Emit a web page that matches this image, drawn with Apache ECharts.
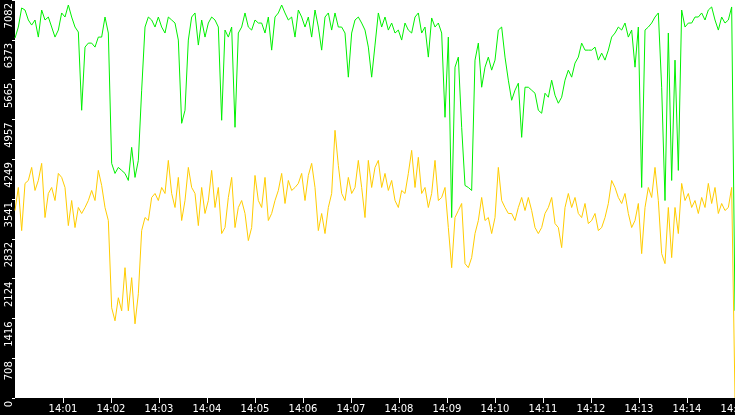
<!DOCTYPE html>
<html>
<head>
<meta charset="utf-8">
<script src="https://cdn.jsdelivr.net/npm/echarts@6/dist/echarts.min.js"></script>
<style>
html,body{margin:0;padding:0;background:#000;}
#chart{width:735px;height:415px;}
</style>
</head>
<body>
<div id="chart"></div>
<script>
// Time span: 14:00:00 to 14:15:00, values sampled evenly (seconds from 14:00)
const spanSeconds = 900;
const yMax = 7082;
const yTickStep = 708.2;
const xTickStep = 60;

const greenValues = [
  6405,6601,6940,6904,6726,6636,6726,6422,6904,6726,
  6779,6601,6422,6547,6851,6779,6993,6779,6601,6512,
  5120,6244,6315,6315,6244,6422,6422,6779,6494,4175,
  3996,4103,4050,3996,3871,4460,3925,4228,5477,6601,
  6779,6726,6601,6779,6601,6494,6779,6726,6672,6369,
  4888,5120,6369,6779,
  6851,6280,6726,6422,6672,6779,6726,6601,4942,6547,
  6422,6601,4817,6494,6601,6851,6601,6547,6726,6672,
  6672,6494,6779,6190,6779,6851,6993,6851,6726,6779,
  6422,6904,6779,6601,6779,6422,6904,6601,6190,6779,
  6851,6547,6851,6601,6601,6494,5709,6494,6726,6779,
  6672,6547,6244,5709,
  6280,6851,6601,6779,6547,6672,6494,6547,6369,6672,
  6547,6494,6779,6851,6494,6601,6066,6762,6601,6672,
  6494,4995,6422,3211,5887,6066,4817,3782,3746,3693,
  6012,6315,5530,5887,6066,5834,6012,6547,6601,6066,
  5655,5298,5477,5602,4638,5530,5530,5477,5423,5120,
  5067,5423,5352,5655,
  5388,5245,5352,5655,5834,5709,5959,6066,6315,6190,
  6190,6190,6244,6012,6137,6012,6190,6422,6494,6601,
  6547,6672,6422,6547,5887,6601,3746,6547,6601,6672,
  6779,6851,5530,3514,6494,3871,6012,4050,6904,6601,
  6672,6672,6779,6779,6851,6726,6904,6958,6726,6547,
  6779,6672,6726,6958,
  1552
];

const yellowValues = [
  3336,3746,2979,3818,3871,4103,3693,3871,4175,3211,
  3639,3746,3514,3996,3925,3746,3068,3514,3033,3390,
  3283,3390,3514,3693,3514,4050,3782,3390,3158,1606,
  1374,1784,1552,2319,1552,2141,1320,1855,2979,3211,
  3158,3568,3639,3514,3746,3639,4228,3639,3390,3925,
  3158,3514,4103,3746,
  3639,3068,3746,3283,3514,4050,3390,3746,2926,3033,
  3568,3925,3033,3390,3514,3283,2801,3033,3960,3514,
  3390,3925,3158,3283,3514,3693,3996,3461,3871,3693,
  3746,3818,3996,3514,3960,4175,3746,2979,3283,2926,
  3390,3639,4763,4139,3639,3514,3925,3639,3746,4228,
  3746,3211,4228,3746,
  4103,4228,3746,3996,3693,3871,3514,3390,3693,3639,
  3996,4406,3746,4282,3639,3746,3390,3639,4228,3514,
  3568,3746,3033,2319,3211,3336,3461,2391,2319,2498,
  2926,3158,3568,3158,3211,2926,3211,4103,3514,3390,
  3283,3283,3158,3390,3568,3336,3568,3336,3033,2926,
  3033,3283,3390,3568,
  3104,3033,2676,3390,3639,3390,3568,3283,3211,3461,
  3104,3158,3283,2979,3033,3211,3461,3871,3746,3568,
  3461,3639,3283,3033,3158,3461,2569,3390,3746,3568,
  4103,3514,2569,2391,3390,2498,3390,2926,3818,3514,
  3639,3390,3514,3283,3568,3390,3818,3461,3746,3283,
  3461,3336,3390,3746,
  0
];

function toPairs(values) {
  const step = spanSeconds / (values.length - 1);
  return values.map((v, i) => [i * step, v]);
}

const chart = echarts.init(document.getElementById('chart'), null, {renderer: 'canvas'});
chart.setOption({
  animation: false,
  backgroundColor: '#000',
  grid: {
    left: 15, right: 0, top: 0, bottom: 17,
    show: true, backgroundColor: '#fff', borderWidth: 0,
    containLabel: false, outerBoundsMode: 'none'
  },
  xAxis: {
    type: 'value',
    min: 0, max: spanSeconds, interval: xTickStep,
    axisLine: {show: false},
    splitLine: {show: false},
    axisTick: {show: true, length: 5, lineStyle: {color: '#fff', width: 1}},
    axisLabel: {
      color: '#fff', fontSize: 10, fontFamily: 'DejaVu Sans', margin: 6,
      showMinLabel: false, showMaxLabel: true, hideOverlap: false,
      formatter: function (v) {
        const m = Math.round(v / 60);
        return '14:' + (m < 10 ? '0' + m : m);
      }
    }
  },
  yAxis: {
    type: 'value',
    min: 0, max: yMax, interval: yTickStep,
    axisLine: {show: false},
    splitLine: {show: false},
    axisTick: {show: true, length: 3, lineStyle: {color: '#fff', width: 1}},
    axisLabel: {
      color: '#fff', fontSize: 10, fontFamily: 'DejaVu Sans',
      rotate: 90, margin: 6, hideOverlap: false,
      align: 'right', verticalAlign: 'middle', padding: [0, 3, 0, 0],
      formatter: function (v) { return String(Math.floor(v + 1e-6)); }
    }
  },
  series: [
    {
      name: 'yellow', type: 'line', data: toPairs(yellowValues),
      showSymbol: false, symbol: 'none',
      lineStyle: {color: '#ffcc00', width: 1}, z: 2
    },
    {
      name: 'green', type: 'line', data: toPairs(greenValues),
      showSymbol: false, symbol: 'none',
      lineStyle: {color: '#00f000', width: 1}, z: 3
    }
  ]
});
</script>
</body>
</html>
